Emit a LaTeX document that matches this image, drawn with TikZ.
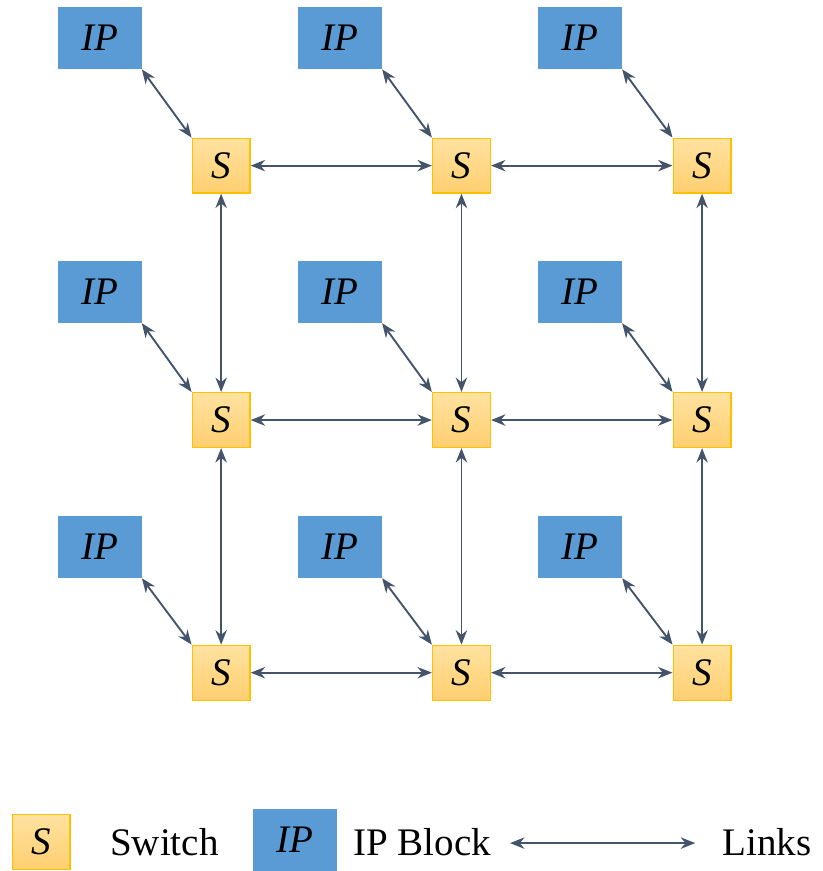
\documentclass[tikz,border=0pt]{standalone}
\usepackage{fontspec}
\setmainfont{Liberation Serif}
\usepackage{xcolor}
\usetikzlibrary{positioning,arrows.meta}
\definecolor{IPBlue}{RGB}{91,155,213}
\definecolor{SwTop}{RGB}{255,226,160}
\definecolor{SwBot}{RGB}{255,207,112}
\definecolor{SwEdge}{RGB}{255,192,0}
\definecolor{LinkGray}{RGB}{68,84,106}

\begin{document}
\begin{tikzpicture}
	\tikzset{
		sw/.style={rectangle, draw=SwEdge, line width=1.2pt, top color=SwTop, bottom color=SwBot,
			minimum width=1.93cm, minimum height=1.83cm, inner sep=0pt, font=\fontsize{37}{40}\selectfont\itshape},
		ip/.style={rectangle, fill=IPBlue, minimum width=2.8cm, minimum height=2.07cm,
			inner sep=0pt, font=\fontsize{37}{40}\selectfont\itshape},
		lk/.style={draw=LinkGray, line width=1.8pt, {Stealth[length=4.8mm,width=3.8mm]}-{Stealth[length=4.8mm,width=3.8mm]}},
		txt/.style={font=\fontsize{37}{40}\selectfont, inner sep=0pt}
	}
	\useasboundingbox (0,0) rectangle (27.4,-29.03);
	
	% IP blocks
	\node[ip] (ip11) at ( 3.32, -1.27) {IP};
	\node[ip] (ip12) at (11.33, -1.27) {IP};
	\node[ip] (ip13) at (19.33, -1.27) {IP};
	\node[ip] (ip21) at ( 3.32, -9.73) {IP};
	\node[ip] (ip22) at (11.33, -9.73) {IP};
	\node[ip] (ip23) at (19.33, -9.73) {IP};
	\node[ip] (ip31) at ( 3.32,-18.23) {IP};
	\node[ip] (ip32) at (11.33,-18.23) {IP};
	\node[ip] (ip33) at (19.33,-18.23) {IP};
	
	% switches
	\node[sw] (s11) at ( 7.37, -5.52) {S};
	\node[sw] (s12) at (15.38, -5.52) {S};
	\node[sw] (s13) at (23.40, -5.52) {S};
	\node[sw] (s21) at ( 7.37,-14.00) {S};
	\node[sw] (s22) at (15.38,-14.00) {S};
	\node[sw] (s23) at (23.40,-14.00) {S};
	\node[sw] (s31) at ( 7.37,-22.42) {S};
	\node[sw] (s32) at (15.38,-22.42) {S};
	\node[sw] (s33) at (23.40,-22.42) {S};
	
	% IP to switch
	\draw[lk] (ip11.south east)--(s11.north west);
	\draw[lk] (ip12.south east)--(s12.north west);
	\draw[lk] (ip13.south east)--(s13.north west);
	\draw[lk] (ip21.south east)--(s21.north west);
	\draw[lk] (ip22.south east)--(s22.north west);
	\draw[lk] (ip23.south east)--(s23.north west);
	\draw[lk] (ip31.south east)--(s31.north west);
	\draw[lk] (ip32.south east)--(s32.north west);
	\draw[lk] (ip33.south east)--(s33.north west);
	
	% mesh links
	\draw[lk] (s11)--(s12);
	\draw[lk] (s12)--(s13);
	\draw[lk] (s21)--(s22);
	\draw[lk] (s22)--(s23);
	\draw[lk] (s31)--(s32);
	\draw[lk] (s32)--(s33);
	\draw[lk] (s11)--(s21);
	\draw[lk] (s21)--(s31);
	\draw[lk] (s12)--(s22);
	\draw[lk] (s22)--(s32);
	\draw[lk] (s13)--(s23);
	\draw[lk] (s23)--(s33);
	
	% legend
	\node[sw] (ksw) at (1.37,-28.07) {S};
	\node[txt] (tsw) at (5.48,-28.07) {Switch};
	\node[ip] (kip) at (9.82,-28.0) {IP};
	\node[txt] (tip) at (14.07,-28.07) {IP Block};
	\coordinate (la) at (17.0,-28.1);
	\coordinate (lb) at (23.17,-28.1);
	\draw[lk] (la)--(lb);
	\node[txt] (tlk) at (25.57,-28.07) {Links};
\end{tikzpicture}
\end{document}
